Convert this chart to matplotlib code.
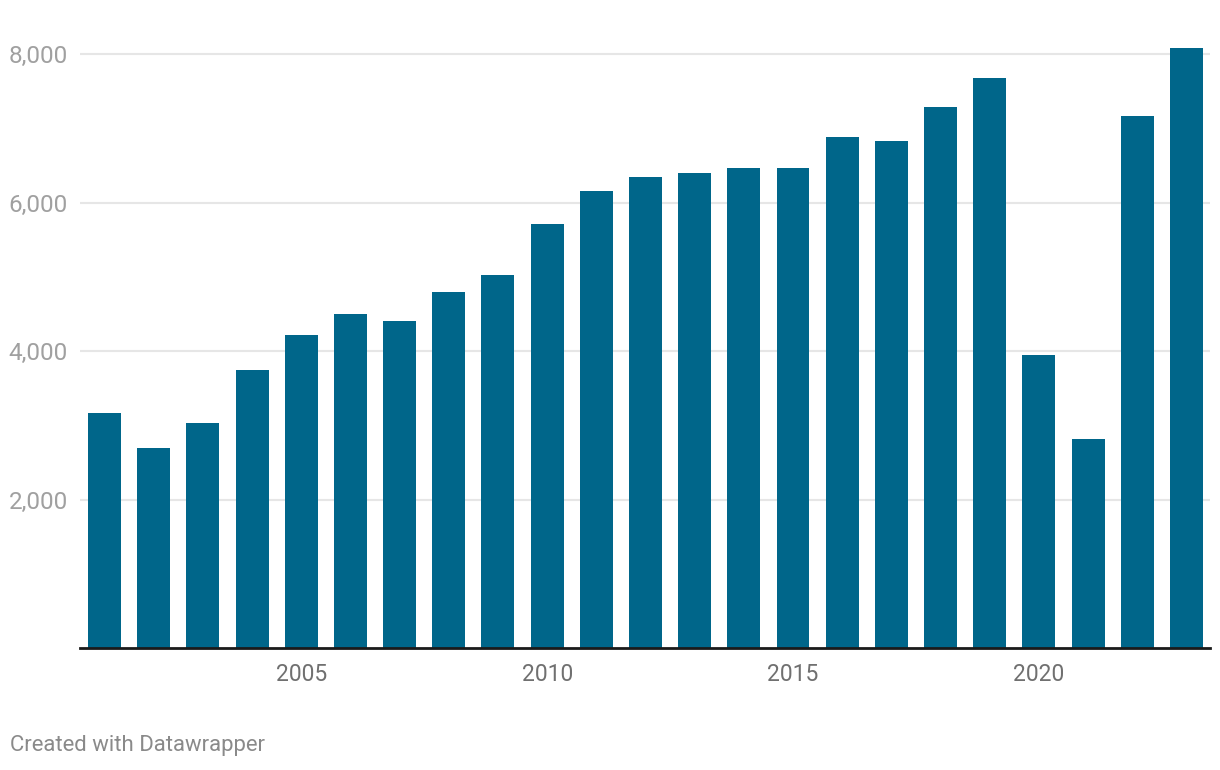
import matplotlib.pyplot as plt
from matplotlib.ticker import FuncFormatter

plt.rcParams['font.family'] = ['Roboto', 'DejaVu Sans']

# data
years = list(range(2001, 2024))
values = [3167, 2695, 3032, 3747, 4218, 4501, 4407, 4798, 5027, 5714,
          6159, 6348, 6402, 6469, 6469, 6887, 6833, 7291, 7682, 3949,
          2817, 7170, 8086]
y_ticks = [2000, 4000, 6000, 8000]
x_ticks = [2005, 2010, 2015, 2020]

W, H = 1220, 770
fig = plt.figure(figsize=(W / 100, H / 100), dpi=100)

y_top = 8200
px_per_unit = (648 - 54) / 8000
top_px = 648 - y_top * px_per_unit
ax = fig.add_axes([80 / W, 1 - 648 / H, (1210 - 80) / W, (648 - top_px) / H])

ax.bar(years, values, width=0.67, color='#00668a', zorder=2)

ax.set_xlim(2000.5, 2023.48)
ax.set_ylim(0, y_top)

ax.set_yticks(y_ticks)
ax.yaxis.set_major_formatter(FuncFormatter(lambda v, p: f'{int(v):,}'))
ax.set_xticks(x_ticks)

ax.grid(axis='y', color='#e6e6e6', linewidth=1.5, zorder=0)
# pad is in points: 8.6pt is about 12px
ax.tick_params(axis='y', length=0, pad=8.6, labelsize=17.5, labelcolor='#a0a0a0')
ax.tick_params(axis='x', length=0, pad=11, labelsize=16.5, labelcolor='#707070')

for s in ['top', 'right', 'left']:
    ax.spines[s].set_visible(False)
ax.spines['bottom'].set_color('#1a1a1a')
ax.spines['bottom'].set_linewidth(2)
ax.spines['bottom'].set_zorder(3)

fig.text(10 / W, 1 - 746 / H, 'Created with Datawrapper', fontsize=15.9,
         color='#8a8a8a', ha='left', va='center')

fig.savefig('out.png', dpi=100, facecolor='white')
